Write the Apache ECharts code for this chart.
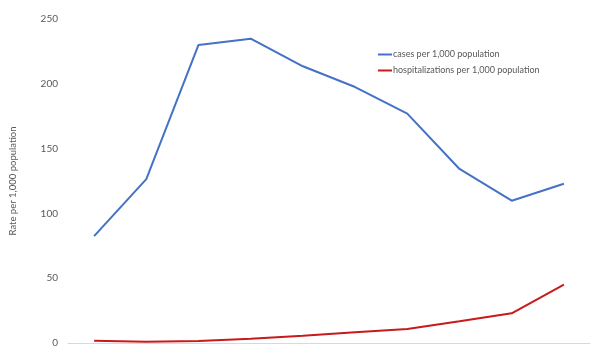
<!DOCTYPE html>
<html>
<head>
<meta charset="utf-8">
<style>
  html, body { margin: 0; padding: 0; background: #fff; }
  #chart { width: 600px; height: 350px; }
</style>
<script src="https://cdn.jsdelivr.net/npm/echarts@6/dist/echarts.min.js"></script>
</head>
<body>
<div id="chart"></div>
<script>
// Ten reporting periods (no labels shown on the category axis)
const periods = ['1', '2', '3', '4', '5', '6', '7', '8', '9', '10'];

// Rates per 1,000 population
const casesPer1000 = [82.5, 126.5, 230, 234.8, 213.5, 197.5, 177, 134.3, 109.8, 122.9];
const hospitalizationsPer1000 = [1.8, 1.0, 1.6, 3.3, 5.6, 8.2, 10.8, 16.8, 22.9, 45];

const yTicks = { min: 0, max: 250, interval: 50 };

const chart = echarts.init(document.getElementById('chart'));
const font = 'Lato, Open Sans, sans-serif';

chart.setOption({
  animation: false,
  backgroundColor: '#ffffff',
  grid: { left: 63, right: 10, top: 19, bottom: 7, containLabel: false },
  legend: {
    orient: 'vertical',
    left: 373,
    top: 45,
    itemGap: 7,
    itemWidth: 14,
    itemHeight: 2,
    icon: 'rect',
    textStyle: { color: '#595959', fontSize: 9, fontFamily: font, padding: [0, 0, 0, -4] },
    data: ['cases per 1,000 population', 'hospitalizations per 1,000 population']
  },
  xAxis: {
    type: 'category',
    data: periods,
    boundaryGap: true,
    axisLine: { show: true, lineStyle: { color: '#d9d9d9', width: 1 } },
    axisTick: { show: false },
    axisLabel: { show: false },
    splitLine: { show: false }
  },
  yAxis: {
    type: 'value',
    min: yTicks.min,
    max: yTicks.max,
    interval: yTicks.interval,
    name: 'Rate per 1,000 population',
    nameLocation: 'middle',
    nameGap: 50,
    nameTextStyle: { color: '#595959', fontSize: 9.5, fontFamily: font },
    axisLine: { show: false },
    axisTick: { show: false },
    splitLine: { show: false },
    axisLabel: { color: '#595959', fontSize: 10, fontFamily: font, margin: 10 }
  },
  series: [
    {
      name: 'cases per 1,000 population',
      type: 'line',
      data: casesPer1000,
      symbol: 'none',
      lineStyle: { color: '#4472c4', width: 2 },
      itemStyle: { color: '#4472c4' }
    },
    {
      name: 'hospitalizations per 1,000 population',
      type: 'line',
      data: hospitalizationsPer1000,
      symbol: 'none',
      lineStyle: { color: '#c81a1a', width: 2 },
      itemStyle: { color: '#c81a1a' }
    }
  ]
});
</script>
</body>
</html>
